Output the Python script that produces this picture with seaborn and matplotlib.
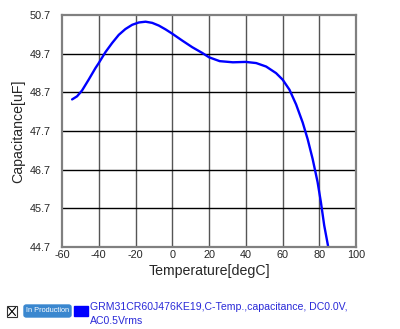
import matplotlib
matplotlib.use("Agg")
import matplotlib.pyplot as plt
import seaborn as sns
import pandas as pd
from matplotlib.patches import FancyBboxPatch, Rectangle
from matplotlib.lines import Line2D

# data
temp = [-54.5, -51.8, -49.1, -45.5, -41.8, -40, -36.4, -32.7, -29.1, -25.5,
        -21.8, -18.2, -14.5, -10.9, -7.3, -3.6, 0, 5.5, 10.9, 16.4,
        20.0, 25.8, 33.0, 40.0, 45.7, 51.1, 56.5, 60.1, 63.8, 67.4,
        71.0, 73.7, 76.4, 79.1, 80.9, 82.7, 84.9]
cap = [48.52, 48.60, 48.75, 49.03, 49.33, 49.46, 49.74, 49.98, 50.19, 50.34,
       50.45, 50.51, 50.53, 50.50, 50.43, 50.33, 50.22, 50.04, 49.87, 49.72,
       49.61, 49.51, 49.48, 49.49, 49.46, 49.37, 49.20, 49.03, 48.77, 48.39,
       47.92, 47.49, 46.98, 46.38, 45.86, 45.26, 44.70]
x_ticks = [-60, -40, -20, 0, 20, 40, 60, 80, 100]
y_ticks = [44.7, 45.7, 46.7, 47.7, 48.7, 49.7, 50.7]
series_name = "GRM31CR60J476KE19,C-Temp.,capacitance, DC0.0V,\nAC0.5Vrms"

df = pd.DataFrame({"Temperature": temp, "Capacitance": cap})

sns.set_style("white")
plt.rcParams["font.family"] = ["Liberation Sans", "DejaVu Sans"]

fig = plt.figure(figsize=(4.0, 3.29), dpi=100)
ax = fig.add_axes([0.155, 0.249, 0.735, 0.705])

sns.lineplot(data=df, x="Temperature", y="Capacitance", color="#0000ff",
             linewidth=1.7, ax=ax)

ax.set_xlim(-60, 100)
ax.set_ylim(44.7, 50.7)
ax.set_xticks(x_ticks)
ax.set_yticks(y_ticks)
ax.set_xticklabels([str(t) for t in x_ticks], fontsize=7.8)
ax.set_yticklabels([f"{t:.1f}" for t in y_ticks], fontsize=7.8)
ax.tick_params(axis="x", length=0, pad=2)
ax.tick_params(axis="y", length=0, pad=8)

for t in x_ticks[1:-1]:
    ax.axvline(t, color="#555555", linewidth=1.0, zorder=0)
for t in y_ticks[1:-1]:
    ax.axhline(t, color="#000000", linewidth=1.0, zorder=0)

for s in ax.spines.values():
    s.set_color("#808080")
    s.set_linewidth(1.6)
    s.set_visible(True)

ax.set_xlabel("Temperature[degC]", fontsize=10.2, labelpad=3)
ax.set_ylabel("Capacitance[uF]", fontsize=10.2, labelpad=3)

# legend row at the bottom
fig.add_artist(Rectangle((7 / 400, 1 - 317 / 329), 10 / 400, 11 / 329,
                         transform=fig.transFigure, facecolor="white",
                         edgecolor="#333333", linewidth=0.8))
fig.add_artist(Line2D([8.5 / 400, 15.5 / 400], [1 - 315.5 / 329, 1 - 307.5 / 329],
                      transform=fig.transFigure, color="black", linewidth=0.8))
fig.add_artist(Line2D([8.5 / 400, 15.5 / 400], [1 - 307.5 / 329, 1 - 315.5 / 329],
                      transform=fig.transFigure, color="black", linewidth=0.8))
fig.add_artist(FancyBboxPatch((24 / 400, 1 - 317 / 329), 47 / 400, 12 / 329,
                              boxstyle="round,pad=0,rounding_size=0.006",
                              transform=fig.transFigure, facecolor="#3a87cf",
                              edgecolor="#3a87cf"))
fig.text(47.5 / 400, 1 - 311 / 329, "In Production", color="white", fontsize=5.3,
         ha="center", va="center")
fig.add_artist(Rectangle((74 / 400, 1 - 316 / 329), 14 / 400, 10 / 329,
                         transform=fig.transFigure, facecolor="#0000ff",
                         edgecolor="#0000ff"))
fig.text(90 / 400, 1 - 302 / 329, series_name, color="#2a2ad8", fontsize=7.6,
         ha="left", va="top", linespacing=1.45)

fig.savefig("out.png", dpi=100)
